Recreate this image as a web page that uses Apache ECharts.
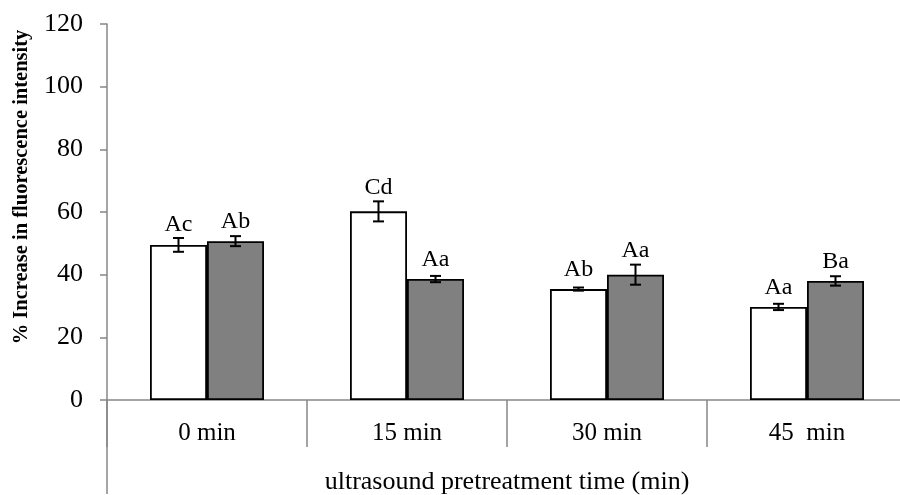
<!DOCTYPE html>
<html>
<head>
<meta charset="utf-8">
<script src="https://cdn.jsdelivr.net/npm/echarts@6/dist/echarts.min.js"></script>
<style>html,body{margin:0;padding:0;background:#fff;overflow:hidden}#c{width:900px;height:495px}</style>
</head>
<body>
<div id="c"></div>
<script>
const categories = ['0 min', '15 min', '30 min', '45  min'];
const whiteValues = [49.5, 60.2, 35.4, 29.7];
const whiteErrors = [2.2, 3.2, 0.5, 1.0];
const whiteLabels = ['Ac', 'Cd', 'Ab', 'Aa'];
const greyValues = [50.7, 38.6, 40.0, 38.0];
const greyErrors = [1.6, 1.0, 3.2, 1.5];
const greyLabels = ['Ab', 'Aa', 'Aa', 'Ba'];
const yTicks = [0, 20, 40, 60, 80, 100, 120];

const BAR_W = 57;
const FONT = '"Liberation Serif", "Times New Roman", serif';
const AXIS_COLOR = '#878787';

function errData(vals, errs) {
  return vals.map((v, i) => [i, v, errs[i]]);
}

function makeErr(offset, labels) {
  return function (params, api) {
    const i = api.value(0), v = api.value(1), e = api.value(2);
    const lab = labels[params.dataIndex];
    const top = api.coord([i, v + e]);
    const bot = api.coord([i, v - e]);
    const barTop = api.coord([i, v]);
    const x = top[0] + offset;
    const cap = 5.5;
    const baseline = Math.min(barTop[1] - 10.5, top[1] - 5);
    return {
      type: 'group',
      children: [
        { type: 'line', shape: { x1: x, y1: top[1], x2: x, y2: bot[1] }, style: { stroke: '#000', lineWidth: 2 } },
        { type: 'line', shape: { x1: x - cap, y1: top[1], x2: x + cap, y2: top[1] }, style: { stroke: '#000', lineWidth: 2 } },
        { type: 'line', shape: { x1: x - cap, y1: bot[1], x2: x + cap, y2: bot[1] }, style: { stroke: '#000', lineWidth: 2 } },
        { type: 'text', x: x, y: baseline + 3.5, style: { text: lab, fill: '#000', font: '24px ' + FONT, align: 'center', verticalAlign: 'bottom' } }
      ]
    };
  };
}

const chart = echarts.init(document.getElementById('c'), null, { renderer: 'canvas', width: 900, height: 495 });
chart.setOption({
  animation: false,
  backgroundColor: '#fff',
  grid: { left: 107, right: -7, top: 24, bottom: 95, containLabel: false, outerBoundsMode: 'none' },
  xAxis: {
    type: 'category',
    data: categories,
    axisLine: { lineStyle: { color: AXIS_COLOR, width: 1.5 } },
    axisTick: { show: true, length: 47, lineStyle: { color: AXIS_COLOR, width: 1.5 } },
    axisLabel: { fontFamily: FONT, fontSize: 25, color: '#000', margin: 21 },
    name: 'ultrasound pretreatment time (min)',
    nameLocation: 'middle',
    nameGap: 69,
    nameTextStyle: { fontFamily: FONT, fontSize: 26, color: '#000' }
  },
  yAxis: {
    type: 'value',
    min: 0, max: 120, interval: 20,
    splitLine: { show: false },
    axisLine: { show: true, lineStyle: { color: AXIS_COLOR, width: 1.5 } },
    axisTick: { show: true, length: 7, lineStyle: { color: AXIS_COLOR, width: 1.5 } },
    axisLabel: { fontFamily: FONT, fontSize: 26, color: '#000', margin: 24,
      formatter: v => yTicks.indexOf(v) >= 0 ? String(v) : '' }
  },
  graphic: [
    { type: 'line', shape: { x1: 107, y1: 400, x2: 107, y2: 494 }, style: { stroke: AXIS_COLOR, lineWidth: 1.5 } },
    { type: 'text', x: 22, y: 187, rotation: Math.PI / 2,
      style: { text: '% Increase in fluorescence intensity', fill: '#000',
        font: 'bold 20.5px ' + FONT, align: 'center', verticalAlign: 'middle' } }
  ],
  series: [
    { type: 'bar', data: whiteValues, barWidth: BAR_W, barGap: '0%',
      itemStyle: { color: '#ffffff', borderColor: '#000', borderWidth: 1.8 } },
    { type: 'bar', data: greyValues, barWidth: BAR_W, barGap: '0%',
      itemStyle: { color: '#808080', borderColor: '#000', borderWidth: 1.8 } },
    { type: 'custom', data: errData(whiteValues, whiteErrors), renderItem: makeErr(-BAR_W / 2, whiteLabels), z: 5 },
    { type: 'custom', data: errData(greyValues, greyErrors), renderItem: makeErr(BAR_W / 2, greyLabels), z: 5 }
  ]
});
</script>
</body>
</html>
